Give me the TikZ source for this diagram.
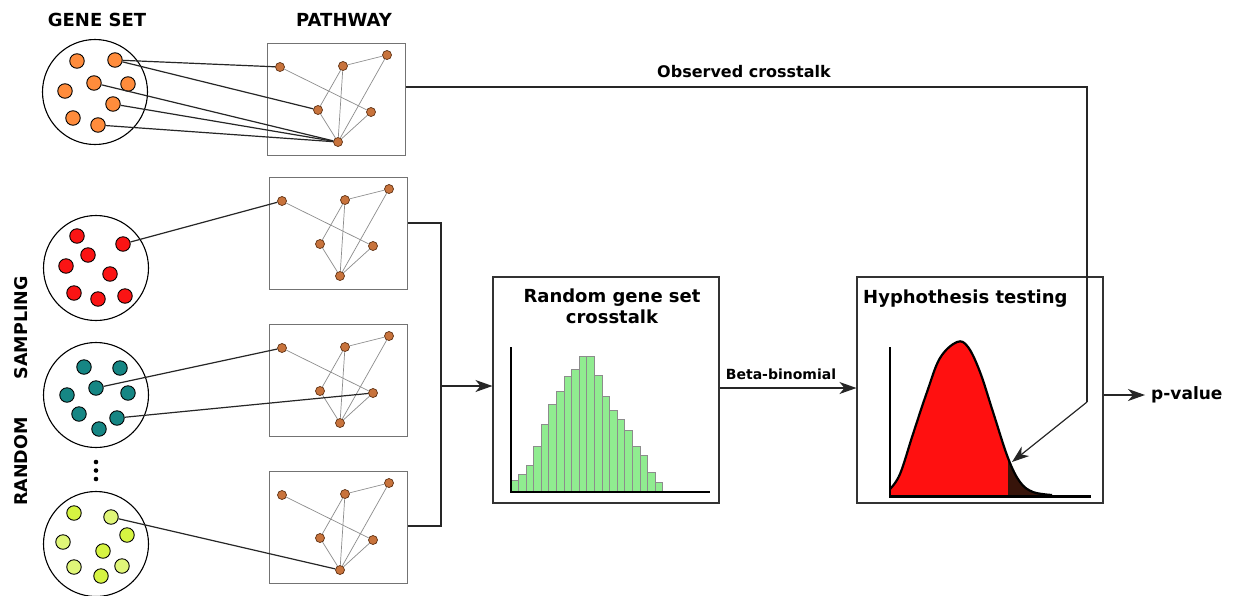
\documentclass[tikz,border=0pt]{standalone}
\usepackage{fontspec}
\setmainfont{DejaVu Sans}
\usetikzlibrary{arrows.meta}
\definecolor{geneorange}{RGB}{255,140,60}
\definecolor{genered}{RGB}{250,20,20}
\definecolor{geneteal}{RGB}{22,134,132}
\definecolor{genelime}{RGB}{214,244,66}
\definecolor{genelimelight}{RGB}{224,246,120}
\definecolor{pathnode}{RGB}{200,115,60}
\definecolor{pathnodeedge}{RGB}{95,50,20}
\definecolor{histgreen}{RGB}{144,236,144}
\definecolor{curvered}{RGB}{255,16,16}
\definecolor{tailbrown}{RGB}{55,20,10}
\newcommand{\pathwaybox}[3]{%
  \node[pwbox] (#1) at ({#2+69},{#3+56}) {};
  \node[pn] (#1n1) at ({#2+13},{#3+24}) {};
  \node[pn] (#1n2) at ({#2+76},{#3+23}) {};
  \node[pn] (#1n3) at ({#2+120},{#3+12}) {};
  \node[pn] (#1n4) at ({#2+51},{#3+67}) {};
  \node[pn] (#1n5) at ({#2+104},{#3+69}) {};
  \node[pn] (#1n6) at ({#2+71},{#3+99}) {};
  \draw[pedge] (#1n1) -- (#1n5);
  \draw[pedge] (#1n2) -- (#1n3);
  \draw[pedge] (#1n2) -- (#1n4);
  \draw[pedge] (#1n2) -- (#1n6);
  \draw[pedge] (#1n3) -- (#1n6);
  \draw[pedge] (#1n4) -- (#1n6);
  \draw[pedge] (#1n5) -- (#1n6);
}
\begin{document}
\begin{tikzpicture}[x=1pt,y=-1pt,
  gdot/.style={circle,draw=black,line width=0.9pt,minimum size=14.5pt,inner sep=0pt},
  pn/.style={circle,draw=pathnodeedge,line width=0.7pt,fill=pathnode,minimum size=9pt,inner sep=0pt},
  pedge/.style={draw=black!45,line width=0.7pt},
  pwbox/.style={draw=black!55,line width=1pt,minimum width=138pt,minimum height=112pt,inner sep=0pt},
  gline/.style={draw=black!85,line width=1.2pt},
  bigcirc/.style={circle,draw=black,line width=1.1pt,inner sep=0pt,minimum size=105pt},
  panel/.style={draw=black!80,line width=1.1pt,inner sep=0pt,minimum width=226pt,minimum height=226pt},
  conn/.style={draw=black!85,line width=1.2pt},
  arr/.style={conn,-{Stealth[length=17pt,width=12pt,inset=5pt]}},
  ttl/.style={font=\bfseries\fontsize{18}{21}\selectfont,inner sep=0pt},
  bar/.style={fill=histgreen,draw=black!45,line width=0.6pt},
  axis/.style={draw=black,line width=2.2pt},
  curve/.style={draw=black,line width=2.2pt}]
\useasboundingbox (0,0) rectangle (1238,595);
\fill[white] (0,0) rectangle (1238,595);

% headings
\node[ttl,anchor=base] (hgs) at (97,26) {GENE SET};
\node[ttl,anchor=base] (hpw) at (344,26) {PATHWAY};
\node[font=\bfseries\fontsize{17.5}{20}\selectfont,rotate=90,inner sep=0pt] (rs) at (21,391) {RANDOM\hspace{38pt}SAMPLING};

% gene set circles
\node[bigcirc] (gs) at (95,92) {};
\node[bigcirc] (gsr) at (96,268) {};
\node[bigcirc] (gst) at (96,395) {};
\node[bigcirc] (gsl) at (96,544) {};

% pathways
\pathwaybox{p1}{267}{43}
\pathwaybox{p2}{269}{177}
\pathwaybox{p3}{269}{324}
\pathwaybox{p4}{269}{471}

% orange genes
\node[gdot,fill=geneorange] (o1) at (77,61) {};
\node[gdot,fill=geneorange] (o2) at (115,60) {};
\node[gdot,fill=geneorange] (o3) at (65,91) {};
\node[gdot,fill=geneorange] (o4) at (94,83) {};
\node[gdot,fill=geneorange] (o5) at (128,84) {};
\node[gdot,fill=geneorange] (o6) at (113,104) {};
\node[gdot,fill=geneorange] (o7) at (73,118) {};
\node[gdot,fill=geneorange] (o8) at (98,125) {};
% red genes
\node[gdot,fill=genered] (r1) at (77,236) {};
\node[gdot,fill=genered] (r2) at (123,244) {};
\node[gdot,fill=genered] (r3) at (88,255) {};
\node[gdot,fill=genered] (r4) at (66,266) {};
\node[gdot,fill=genered] (r5) at (110,274) {};
\node[gdot,fill=genered] (r6) at (74,293) {};
\node[gdot,fill=genered] (r7) at (98,299) {};
\node[gdot,fill=genered] (r8) at (125,296) {};
% teal genes
\node[gdot,fill=geneteal] (t1) at (84,367) {};
\node[gdot,fill=geneteal] (t2) at (120,368) {};
\node[gdot,fill=geneteal] (t3) at (96,388) {};
\node[gdot,fill=geneteal] (t4) at (67,395) {};
\node[gdot,fill=geneteal] (t5) at (128,393) {};
\node[gdot,fill=geneteal] (t6) at (79,414) {};
\node[gdot,fill=geneteal] (t7) at (117,418) {};
\node[gdot,fill=geneteal] (t8) at (99,429) {};
% lime genes
\node[gdot,fill=genelime] (l1) at (74,513) {};
\node[gdot,fill=genelimelight] (l2) at (111,517) {};
\node[gdot,fill=genelime] (l3) at (127,535) {};
\node[gdot,fill=genelimelight] (l4) at (63,542) {};
\node[gdot,fill=genelime] (l5) at (103,551) {};
\node[gdot,fill=genelimelight] (l6) at (74,567) {};
\node[gdot,fill=genelime] (l7) at (101,576) {};
\node[gdot,fill=genelimelight] (l8) at (122,566) {};

% ellipsis
\fill (96,462) circle (2.3pt);
\fill (96,470.5) circle (2.3pt);
\fill (96,479) circle (2.3pt);

% gene -> pathway links
\draw[gline] (o2) -- (p1n1);
\draw[gline] (o2) -- (p1n4);
\draw[gline] (o4) -- (p1n6);
\draw[gline] (o6) -- (p1n6);
\draw[gline] (o8) -- (p1n6);
\draw[gline] (r2) -- (p2n1);
\draw[gline] (t3) -- (p3n1);
\draw[gline] (t7) -- (p3n5);
\draw[gline] (l2) -- (p4n6);

% panels
\node[panel] (rb) at (606,390) {};
\node[panel,minimum width=246pt] (hb) at (980,390) {};

% bracket to random panel
\coordinate (j2) at (441,223);
\coordinate (j4) at (441,526);
\coordinate (jm) at (441,386);
\draw[conn] (p2.east |- j2) -- (j2) -- (j4) -- (p4.east |- j4);
\draw[arr] (jm) -- (rb.west |- jm);

% random panel content
\node[ttl,align=center,anchor=base] (rbt) at (612,323) {Random gene set\\crosstalk};
\foreach \t [count=\i from 0] in {480,474.7,465.3,446,424.3,404,391,376.7,369,356,356,375.7,396,410.7,419,430,446,455.3,472,482.7}
  \filldraw[bar] ({510.7+\i*7.6},491) rectangle ({510.7+(\i+1)*7.6},\t);
\draw[axis] (511,347) -- (511,492) -- (710,492);

% beta-binomial
\coordinate (bb) at (0,388);
\draw[arr] (rb.east |- bb) -- (hb.west |- bb);
\node[font=\bfseries\fontsize{14}{16}\selectfont,anchor=base,inner sep=0pt] (bbl) at (781,379) {Beta-binomial};

% hypothesis panel content
\node[ttl,anchor=base west] (hbt) at (863,303) {Hyphothesis testing};
\begin{scope}
  \clip (890,496) -- plot[smooth,tension=0.6] coordinates {(890,489) (900,474) (913,434) (927,392) (940,358) (957,342) (968,347) (980,372) (993,412) (1008,458) (1020,482) (1033,492) (1052,495)} -- (1055,497) -- cycle;
  \fill[curvered] (880,330) rectangle (1008,500);
  \fill[tailbrown] (1008,330) rectangle (1070,500);
\end{scope}
\draw[curve] plot[smooth,tension=0.6] coordinates {(890,489) (900,474) (913,434) (927,392) (940,358) (957,342) (968,347) (980,372) (993,412) (1008,458) (1020,482) (1033,492) (1052,495)};
\draw[axis] (890,347) -- (890,496.5) -- (1091,496.5);

% observed crosstalk
\coordinate (oc) at (1087,87);
\coordinate (ob) at (1087,402);
\coordinate (otip) at (1012,462);
\draw[conn] (p1.east |- oc) -- (oc) -- (ob);
\draw[arr] (ob) -- (otip);
\node[font=\bfseries\fontsize{16}{18}\selectfont,anchor=base,inner sep=0pt] (ocl) at (744,77) {Observed crosstalk};

% p-value
\node[font=\bfseries\fontsize{17}{19}\selectfont,anchor=west,inner sep=0pt] (pv) at (1151,395) {p-value};
\draw[arr,shorten >=6pt] (hb.east |- pv.west) -- (pv.west);
\end{tikzpicture}
\end{document}
